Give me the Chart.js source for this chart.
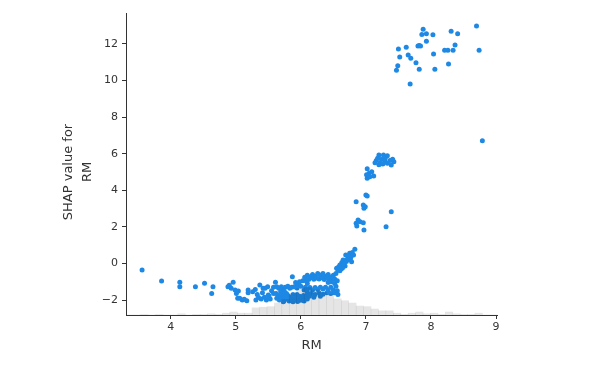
<!DOCTYPE html>
<html><head><meta charset="utf-8">
<script src="https://cdn.jsdelivr.net/npm/chart.js@4/dist/chart.umd.min.js"></script>
<style>html,body{margin:0;padding:0;background:#fff;}canvas{display:block;}</style>
</head><body>
<canvas id="c" width="600" height="369"></canvas>
<script>
// RM feature values (x) and SHAP values (y)
const rm = [
  3.56,3.86,4.14,4.14,4.38,4.52,4.65,4.63,4.88,4.90,4.96,4.93,4.99,5.01,5.03,5.10,5.17,5.04,5.06,5.13,5.19,5.19,
  5.30,5.31,5.37,5.41,5.45,5.47,5.50,5.35,5.42,5.49,5.51,5.26,5.33,5.39,5.44,5.55,5.53,5.58,5.58,
  5.61,5.63,5.68,5.73,5.78,5.87,5.83,
  5.63,5.66,5.70,5.76,5.80,5.86,5.90,5.95,6.00,
  5.62,5.65,5.67,5.70,5.72,5.74,5.76,5.78,5.80,5.82,5.84,5.86,5.88,5.90,5.92,5.94,5.96,5.98,6.00,6.02,6.04,6.06,6.08,
  6.05,5.69,5.75,5.92,5.98,6.03,5.94,6.07,6.10,6.10,5.73,5.88,5.95,6.05,
  6.06,6.10,6.14,6.18,6.22,6.26,6.30,6.34,6.38,6.42,6.46,6.50,6.54,6.12,6.20,6.28,6.36,6.44,6.52,6.16,6.24,6.32,6.40,6.48,
  6.42,6.47,6.52,6.56,6.10,6.08,
  6.14,6.18,6.22,6.26,6.30,6.34,6.38,6.42,6.46,6.50,6.54,6.16,6.22,6.28,6.34,6.40,6.46,6.52,6.56,6.57,6.10,6.20,6.30,6.13,
  6.83,6.75,6.69,6.81,6.73,6.65,6.78,6.60,6.68,6.55,6.58,6.62,6.63,6.70,6.72,6.77,6.79,6.66,6.57,6.60,6.64,6.71,6.76,
  7.02,7.09,7.05,7.12,7.02,7.06,7.00,7.02,6.85,6.96,6.97,7.39,6.88,6.91,6.85,6.86,6.96,7.31,6.97,7.01,6.99,
  7.20,7.27,7.33,7.16,7.22,7.29,7.37,7.43,7.39,7.26,7.33,7.18,7.24,7.30,7.41,7.14,7.20,
  7.88,7.86,7.93,8.03,7.93,8.31,8.41,8.70,7.50,7.62,7.80,7.84,7.82,8.37,8.26,8.34,8.21,8.74,7.52,7.65,7.69,7.77,8.04,7.49,7.47,7.82,8.06,8.27,7.68,8.79
];
const shap = [
  -0.36,-0.96,-1.03,-1.27,-1.27,-1.09,-1.27,-1.64,-1.27,-1.20,-1.03,-1.36,-1.45,-1.64,-1.91,-2.00,-2.04,-1.51,-1.91,-1.96,-1.45,-1.60,
  -1.42,-2.00,-1.18,-1.60,-1.36,-2.00,-1.73,-1.87,-1.36,-1.27,-1.78,-1.55,-1.70,-1.95,-1.85,-1.50,-1.95,-1.64,-1.30,
  -1.03,-1.91,-1.82,-1.45,-1.64,-0.73,-1.36,
  -1.27,-1.36,-1.27,-1.30,-1.25,-1.30,-1.27,-1.20,-1.25,
  -1.65,-1.75,-2.00,-1.90,-1.70,-2.05,-1.85,-1.95,-1.75,-2.05,-1.85,-1.95,-1.70,-2.00,-1.85,-1.70,-1.95,-1.80,-2.02,-1.90,-1.75,-1.95,-1.80,
  -1.45,-1.55,-1.55,-1.05,-1.00,-0.95,-1.35,-1.30,-1.60,-1.95,-2.10,-2.10,-2.08,-2.05,
  -0.75,-0.65,-0.80,-0.60,-0.70,-0.55,-0.65,-0.55,-0.70,-0.60,-0.75,-0.65,-0.55,-0.88,-0.86,-0.85,-0.88,-0.88,-0.85,-0.72,-0.80,-0.78,-0.80,-0.82,
  -1.05,-1.00,-1.10,-0.95,-1.10,-0.95,
  -1.32,-1.45,-1.32,-1.42,-1.30,-1.40,-1.30,-1.45,-1.30,-1.45,-1.25,-1.65,-1.70,-1.60,-1.68,-1.60,-1.65,-1.60,-1.50,-1.70,-1.45,-1.85,-1.80,-1.80,
  0.77,0.55,0.46,0.46,0.28,0.19,0.09,-0.09,-0.14,-0.27,-0.20,-0.30,0.05,0.10,0.40,0.35,0.60,-0.05,-0.35,-0.40,-0.25,0.20,0.22,
  5.18,5.01,4.93,4.78,4.65,4.74,3.74,3.69,3.37,3.19,3.01,2.83,2.37,2.28,2.19,2.04,2.23,2.01,1.83,4.85,3.10,
  5.93,5.93,5.89,5.62,5.51,5.62,5.62,5.56,5.38,5.43,5.47,5.75,5.70,5.78,5.70,5.50,5.40,
  12.80,12.52,12.56,12.50,12.14,12.69,12.56,12.98,11.72,11.82,11.89,11.89,11.92,11.94,11.65,11.65,11.65,11.65,11.28,11.39,11.21,10.97,11.45,10.81,10.56,10.61,10.61,10.90,9.81,6.71
];
// background histogram of RM (bin centres and counts)
const histBinCenters = [3.367,3.481,3.595,3.710,3.824,3.938,4.052,4.166,4.281,4.395,4.509,4.623,4.737,4.852,4.966,5.080,5.194,5.308,5.423,5.537,5.651,5.765,5.879,5.994,6.108,6.222,6.336,6.450,6.565,6.679,6.793,6.907,7.021,7.136,7.250,7.364,7.478,7.592,7.707,7.821,7.935,8.049,8.163,8.278,8.392,8.506,8.620,8.734,8.849,8.963];
const histCounts = [0,0,1,0,1,0,0,2,0,1,1,2,1,3,5,3,3,12,13,14,20,26,36,44,46,42,38,34,27,24,20,15,14,10,7,7,3,1,3,5,2,3,1,5,2,1,1,3,0,0];
const totalSamples = 506;
const xTicks = [4,5,6,7,8,9];
const yTicks = [-2,0,2,4,6,8,10,12];
const yTitleLines = ['SHAP value for', 'RM'];

const FONT = "'DejaVu Sans', sans-serif";
const AX = '#333333';
const fmt = v => (v < 0 ? '\u2212' + Math.abs(v) : String(v));

// y-axis title drawn as text, centred like matplotlib's label
const yTitlePlugin = {
  id: 'yTitle',
  afterDraw(chart) {
    const ctx = chart.ctx;
    ctx.save();
    ctx.translate(69, 172);
    ctx.rotate(-Math.PI / 2);
    ctx.fillStyle = AX;
    ctx.font = "13px " + FONT;
    ctx.textAlign = 'center';
    ctx.textBaseline = 'middle';
    yTitleLines.forEach((t, i) => ctx.fillText(t, 0, i * 18.5));
    ctx.restore();
  }
};

new Chart(document.getElementById('c'), {
  type: 'scatter',
  data: {
    datasets: [
      {
        type: 'bar',
        data: histBinCenters.map((x, i) => ({x: x, y: histCounts[i]})),
        yAxisID: 'y2',
        backgroundColor: 'rgba(0,0,0,0.1)',
        borderWidth: 0,
        barPercentage: 1,
        categoryPercentage: 1,
        order: 0
      },
      {
        type: 'scatter',
        data: rm.map((x, i) => ({x: x, y: shap[i]})),
        backgroundColor: '#1E88E5',
        borderWidth: 0,
        pointRadius: 2.5,
        order: 1
      }
    ]
  },
  plugins: [yTitlePlugin],
  options: {
    responsive: false,
    animation: false,
    devicePixelRatio: 1,
    layout: {padding: {left: 0, right: 103, top: 13, bottom: 0}},
    plugins: {legend: {display: false}, tooltip: {enabled: false}},
    scales: {
      x: {
        type: 'linear', min: 3.313, max: 9.015, offset: false,
        afterBuildTicks: s => { s.ticks = xTicks.map(v => ({value: v})); },
        afterFit: s => { s.height = 54; },
        grid: {display: true, offset: false, drawOnChartArea: false, drawTicks: true, tickLength: 4, color: AX, lineWidth: 1},
        border: {display: true, color: AX, width: 1},
        ticks: {color: AX, font: {family: FONT, size: 11}, padding: 2, maxRotation: 0, autoSkip: false, callback: v => fmt(v)},
        title: {display: true, text: 'RM', color: AX, font: {family: FONT, size: 13}, padding: {top: 0, bottom: 16}}
      },
      y: {
        type: 'linear', min: -2.82, max: 13.69,
        afterBuildTicks: s => { s.ticks = yTicks.map(v => ({value: v})); },
        afterFit: s => { s.width = 126; },
        grid: {display: true, drawOnChartArea: false, drawTicks: true, tickLength: 4, color: AX, lineWidth: 1},
        border: {display: true, color: AX, width: 1},
        ticks: {color: AX, font: {family: FONT, size: 11}, padding: 4, autoSkip: false, callback: v => fmt(v)},
        title: {display: false}
      },
      y2: {type: 'linear', display: false, min: 0, max: totalSamples}
    }
  }
});
</script>
</body></html>
